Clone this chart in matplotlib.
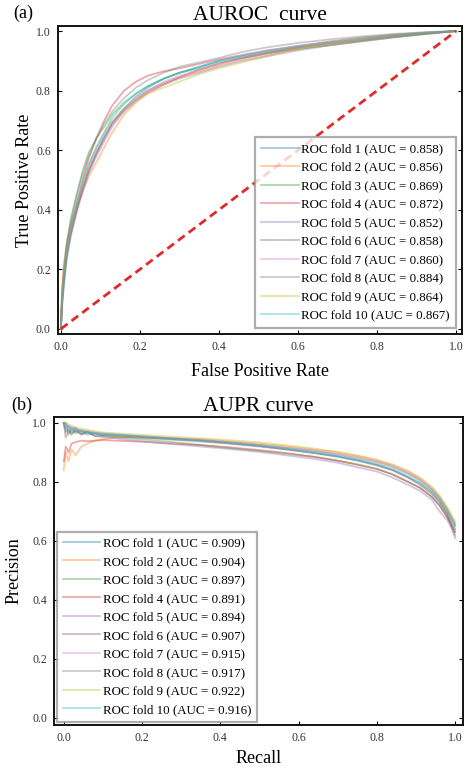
import matplotlib
matplotlib.use('Agg')
import matplotlib.pyplot as plt

plt.rcParams['font.family'] = ['Liberation Serif', 'DejaVu Serif']

fold_colors = ['tab:blue', 'tab:orange', 'tab:green', 'tab:red', 'tab:purple',
               'tab:brown', 'tab:pink', 'tab:gray', 'tab:olive', 'tab:cyan']

# ROC data (a)
roc_auc = [0.858, 0.856, 0.869, 0.872, 0.852, 0.858, 0.860, 0.884, 0.864, 0.867]
fpr = [0.0, 0.003, 0.008, 0.015, 0.025, 0.04, 0.055, 0.07, 0.09, 0.11, 0.13, 0.16, 0.19,
       0.22, 0.26, 0.30, 0.35, 0.40, 0.46, 0.52, 0.60, 0.68, 0.76, 0.84, 0.92, 1.0]
tpr1 = [0.0, 0.08, 0.16, 0.25, 0.32, 0.40, 0.47, 0.53, 0.59, 0.64, 0.69, 0.74, 0.78, 0.81, 0.84, 0.86, 0.88, 0.90, 0.915, 0.93, 0.945, 0.958, 0.97, 0.982, 0.991, 1.0]
tpr2 = [0.0, 0.14, 0.22, 0.29, 0.35, 0.41, 0.46, 0.51, 0.56, 0.61, 0.66, 0.72, 0.76, 0.79, 0.82, 0.845, 0.865, 0.885, 0.905, 0.92, 0.94, 0.955, 0.968, 0.98, 0.99, 1.0]
tpr3 = [0.0, 0.10, 0.19, 0.28, 0.36, 0.45, 0.53, 0.59, 0.64, 0.68, 0.72, 0.76, 0.79, 0.815, 0.84, 0.86, 0.875, 0.895, 0.91, 0.925, 0.94, 0.952, 0.965, 0.978, 0.99, 1.0]
tpr4 = [0.0, 0.11, 0.19, 0.27, 0.34, 0.42, 0.50, 0.57, 0.64, 0.70, 0.75, 0.80, 0.83, 0.85, 0.865, 0.875, 0.89, 0.905, 0.92, 0.935, 0.95, 0.965, 0.978, 0.988, 0.995, 1.0]
tpr5 = [0.0, 0.07, 0.15, 0.23, 0.31, 0.39, 0.46, 0.52, 0.58, 0.63, 0.68, 0.73, 0.765, 0.795, 0.82, 0.84, 0.86, 0.88, 0.90, 0.915, 0.935, 0.952, 0.966, 0.979, 0.99, 1.0]
tpr6 = [0.0, 0.09, 0.17, 0.25, 0.32, 0.40, 0.47, 0.53, 0.59, 0.645, 0.69, 0.735, 0.77, 0.80, 0.825, 0.845, 0.87, 0.89, 0.91, 0.925, 0.945, 0.96, 0.972, 0.984, 0.993, 1.0]
tpr7 = [0.0, 0.10, 0.18, 0.26, 0.33, 0.41, 0.48, 0.54, 0.60, 0.65, 0.695, 0.74, 0.775, 0.80, 0.83, 0.85, 0.87, 0.89, 0.91, 0.925, 0.945, 0.96, 0.973, 0.984, 0.993, 1.0]
tpr8 = [0.0, 0.12, 0.21, 0.29, 0.37, 0.45, 0.52, 0.58, 0.64, 0.69, 0.73, 0.775, 0.81, 0.835, 0.86, 0.88, 0.895, 0.91, 0.93, 0.945, 0.96, 0.972, 0.982, 0.99, 0.996, 1.0]
tpr9 = [0.0, 0.11, 0.19, 0.27, 0.34, 0.42, 0.49, 0.55, 0.61, 0.66, 0.70, 0.74, 0.77, 0.79, 0.81, 0.83, 0.855, 0.875, 0.895, 0.915, 0.94, 0.958, 0.972, 0.985, 0.994, 1.0]
tpr10 = [0.0, 0.09, 0.17, 0.26, 0.34, 0.42, 0.49, 0.55, 0.61, 0.66, 0.71, 0.755, 0.79, 0.815, 0.84, 0.86, 0.88, 0.90, 0.918, 0.932, 0.95, 0.963, 0.975, 0.986, 0.994, 1.0]
tpr_folds = [tpr1, tpr2, tpr3, tpr4, tpr5, tpr6, tpr7, tpr8, tpr9, tpr10]

# PR data (b)
pr_auc = [0.909, 0.904, 0.897, 0.891, 0.894, 0.907, 0.915, 0.917, 0.922, 0.916]
recall = [0.0, 0.005, 0.012, 0.02, 0.03, 0.045, 0.06, 0.08, 0.1, 0.13, 0.17, 0.22, 0.28, 0.35,
          0.42, 0.5, 0.57, 0.64, 0.7, 0.75, 0.8, 0.84, 0.88, 0.91, 0.94, 0.96, 0.98, 1.0]
prec1 = [1.0, 0.97, 0.98, 0.965, 0.975, 0.96, 0.968, 0.962, 0.96, 0.958, 0.955, 0.95, 0.945, 0.94, 0.932, 0.922, 0.91, 0.898, 0.885, 0.872, 0.856, 0.84, 0.815, 0.79, 0.76, 0.73, 0.69, 0.64]
prec2 = [0.84, 0.9, 0.87, 0.91, 0.89, 0.92, 0.93, 0.94, 0.945, 0.95, 0.952, 0.95, 0.948, 0.945, 0.938, 0.93, 0.92, 0.91, 0.9, 0.888, 0.872, 0.855, 0.83, 0.808, 0.775, 0.745, 0.70, 0.65]
prec3 = [1.0, 1.0, 0.96, 0.98, 0.965, 0.975, 0.96, 0.965, 0.955, 0.952, 0.948, 0.942, 0.935, 0.925, 0.915, 0.905, 0.895, 0.885, 0.872, 0.86, 0.845, 0.825, 0.80, 0.78, 0.75, 0.72, 0.68, 0.63]
prec4 = [0.87, 0.92, 0.9, 0.93, 0.935, 0.94, 0.938, 0.94, 0.942, 0.94, 0.938, 0.935, 0.93, 0.925, 0.918, 0.908, 0.898, 0.885, 0.872, 0.858, 0.843, 0.826, 0.80, 0.78, 0.75, 0.72, 0.68, 0.63]
prec5 = [1.0, 0.98, 0.99, 0.97, 0.985, 0.965, 0.97, 0.955, 0.952, 0.948, 0.942, 0.935, 0.928, 0.92, 0.912, 0.902, 0.89, 0.878, 0.865, 0.85, 0.835, 0.815, 0.79, 0.77, 0.74, 0.70, 0.67, 0.62]
prec6 = [1.0, 0.95, 0.975, 0.96, 0.975, 0.962, 0.97, 0.955, 0.958, 0.955, 0.952, 0.948, 0.943, 0.937, 0.93, 0.92, 0.91, 0.898, 0.887, 0.874, 0.858, 0.84, 0.815, 0.795, 0.765, 0.735, 0.69, 0.61]
prec7 = [1.0, 0.99, 0.98, 0.985, 0.978, 0.972, 0.97, 0.966, 0.962, 0.96, 0.957, 0.953, 0.948, 0.942, 0.935, 0.926, 0.916, 0.906, 0.895, 0.884, 0.87, 0.856, 0.835, 0.812, 0.78, 0.75, 0.71, 0.66]
prec8 = [1.0, 1.0, 0.99, 0.985, 0.98, 0.975, 0.972, 0.968, 0.965, 0.962, 0.958, 0.953, 0.948, 0.942, 0.935, 0.925, 0.915, 0.905, 0.893, 0.88, 0.866, 0.85, 0.828, 0.805, 0.775, 0.745, 0.705, 0.655]
prec9 = [1.0, 1.0, 0.995, 0.99, 0.985, 0.98, 0.977, 0.972, 0.968, 0.965, 0.962, 0.958, 0.953, 0.948, 0.942, 0.934, 0.924, 0.913, 0.902, 0.89, 0.876, 0.86, 0.838, 0.815, 0.785, 0.755, 0.715, 0.665]
prec10 = [1.0, 0.99, 0.985, 0.98, 0.975, 0.97, 0.968, 0.965, 0.962, 0.96, 0.956, 0.952, 0.946, 0.94, 0.932, 0.922, 0.912, 0.9, 0.888, 0.875, 0.86, 0.844, 0.82, 0.798, 0.768, 0.738, 0.70, 0.65]
prec_folds = [prec1, prec2, prec3, prec4, prec5, prec6, prec7, prec8, prec9, prec10]

ticks = [0.0, 0.2, 0.4, 0.6, 0.8, 1.0]

fig = plt.figure(figsize=(4.71, 7.69), dpi=100)
ax1 = fig.add_axes([0.1225, 0.5657, 0.8585, 0.4005])
ax2 = fig.add_axes([0.1146, 0.0572, 0.8684, 0.4005])


def style_axes(ax):
    for s in ax.spines.values():
        s.set_linewidth(1.4)
        s.set_color('#111111')
    ax.set_xticks(ticks)
    ax.set_yticks(ticks)
    ax.set_xticklabels(['%.1f' % t for t in ticks])
    ax.set_yticklabels(['%.1f' % t for t in ticks])
    ax.tick_params(direction='in', length=3, width=0.8, labelsize=8.5,
                   labelcolor='#333333', right=True, pad=5)


def style_legend(leg):
    leg.get_frame().set_edgecolor('#999999')
    leg.get_frame().set_linewidth(1.6)


# (a) AUROC
for i in range(10):
    ax1.plot(fpr, tpr_folds[i], color=fold_colors[i], lw=1.3, alpha=0.4,
             label='ROC fold %d (AUC = %.3f)' % (i + 1, roc_auc[i]))
ax1.plot([0, 1], [0, 1], color='#e02a2a', lw=2, linestyle=(0, (3, 1.8)))
ax1.set_xlim(-0.008, 1.015)
ax1.set_ylim(-0.017, 1.017)
style_axes(ax1)
ax1.set_xlabel('False Positive Rate', fontsize=13, labelpad=7)
ax1.set_ylabel('True Positive Rate', fontsize=13)
ax1.yaxis.set_label_coords(-0.062, 0.5)
ax1.set_title('AUROC  curve', fontsize=15.5, pad=4)
leg = ax1.legend(loc='lower right', fontsize=9.3, handlelength=2.9, handletextpad=0.2,
                 labelspacing=0.5, borderpad=0.45, fancybox=False, borderaxespad=0.5)
style_legend(leg)
fig.text(0.05, 0.982, '(a)', fontsize=13, ha='center', va='center')

# (b) AUPR
for i in range(10):
    ax2.plot(recall, prec_folds[i], color=fold_colors[i], lw=1.3, alpha=0.4,
             label='ROC fold %d (AUC = %.3f)' % (i + 1, pr_auc[i]))
ax2.set_xlim(-0.025, 1.02)
ax2.set_ylim(-0.024, 1.02)
style_axes(ax2)
ax2.set_xlabel('Recall', fontsize=13)
ax2.set_ylabel('Precision', fontsize=13)
ax2.yaxis.set_label_coords(-0.078, 0.5)
ax2.set_title('AUPR curve', fontsize=15.5, pad=4)
leg2 = ax2.legend(loc='lower left', fontsize=9.3, handlelength=2.9, handletextpad=0.2,
                  labelspacing=0.5, borderpad=0.45, fancybox=False, borderaxespad=0.25)
style_legend(leg2)
fig.text(0.047, 0.473, '(b)', fontsize=13, ha='center', va='center')

fig.savefig('out.png', dpi=100)
